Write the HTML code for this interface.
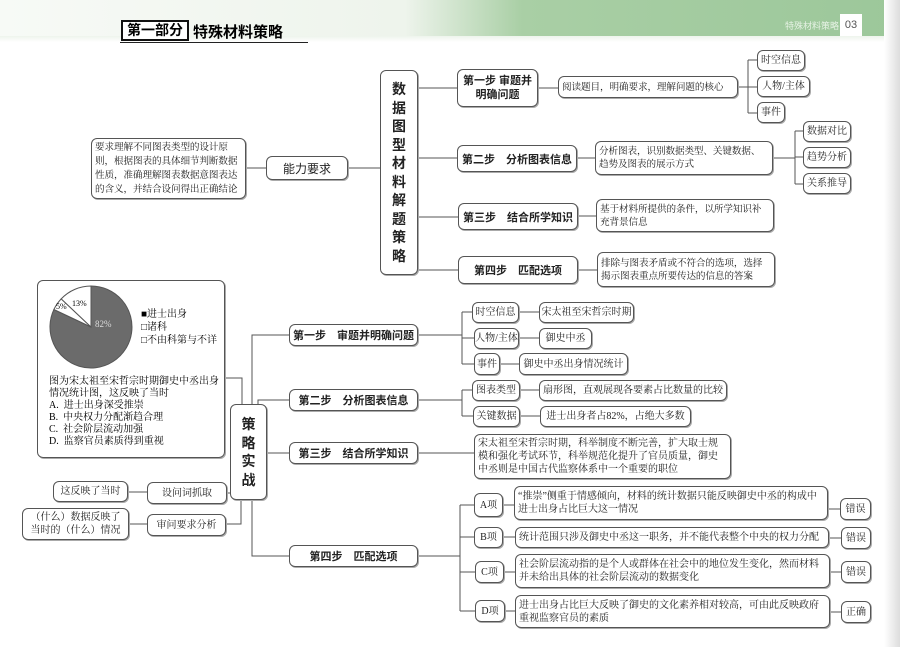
<!DOCTYPE html>
<html><head><meta charset="utf-8"><style>
body{margin:0;width:900px;height:647px;overflow:hidden;background:#fff;position:relative;font-family:"Liberation Sans","Noto Sans CJK SC",sans-serif;}
.b{position:absolute;box-sizing:border-box;border:1px solid #555;border-radius:6px;background:#fff;box-shadow:1px 1px 0 #aaa;display:flex;align-items:center;color:#222;}
.h{font-family:"Liberation Sans","Noto Sans CJK SC",sans-serif;font-weight:bold;font-size:11px;justify-content:center;text-align:center;white-space:nowrap;}
.s{font-family:"Liberation Serif","Noto Serif CJK SC",serif;font-size:10px;line-height:13px;padding:0 3px;}
.m{font-size:9.6px;letter-spacing:-0.1px;}
.c{justify-content:center;white-space:nowrap;padding:0;}
.n{white-space:nowrap;}
svg{position:absolute;left:0;top:0;}
</style></head><body>
<div style="position:absolute;left:0;top:0;width:900px;height:36px;background:linear-gradient(90deg,#f7faf6 0%,#eef4ec 45%,#a9cfa5 58%,#9cc79a 100%);"></div>
<div style="position:absolute;left:0;top:36px;width:900px;height:6px;background:linear-gradient(#eef4ec,#fff);"></div>
<div style="position:absolute;left:884px;top:0;width:16px;height:647px;background:linear-gradient(90deg,#fff,#ddd);"></div>
<div style="position:absolute;left:121px;top:20px;width:68px;height:21px;border:2px solid #111;box-sizing:border-box;font-weight:bold;font-size:14px;line-height:17px;text-align:center;background:#fff;">第一部分</div>
<div style="position:absolute;left:193px;top:21px;font-weight:bold;font-size:15px;">特殊材料策略</div>
<div style="position:absolute;left:120px;top:42px;width:188px;height:1px;background:#222;"></div>
<div style="position:absolute;left:840px;top:14px;width:22px;height:22px;background:#fff;font-size:11px;color:#555;text-align:center;line-height:22px;">03</div>
<div style="position:absolute;left:785px;top:19px;font-size:9px;color:#e6f2e4;">特殊材料策略</div>

<svg width="900" height="647" fill="none" stroke="#555" stroke-width="1">
<path d="M246 168H266M348 168H380"/>
<path d="M418 88H457M418 158H457M418 217H458M418 270H458"/>
<path d="M538 88H558M577 158H595M578 216H596M578 270H597"/>
<path d="M738 87H748M748 60V113M748 60H757M748 87H757M748 113H757"/>
<path d="M773 158H795M795 131V184M795 131H803M795 157H803M795 184H803"/>
<path d="M225 378H242V404M241 500V524H226M227 493H230M128 492H147M129 524H147"/>
<path d="M252 404V335H289M258 404V400H289M267 453H289M252 500V556H289"/>
<path d="M418 335H462M462 312V364M462 312H472M462 338H474M462 364H474"/>
<path d="M519 312H539M519 338H539M500 364H519"/>
<path d="M418 400H462M462 390V416M462 390H472M462 416H473M520 390H539M520 416H540"/>
<path d="M418 453H474"/>
<path d="M418 556H460M460 505V611M460 505H474M460 537H474M460 572H475M460 611H475"/>
<path d="M503 505H514M503 537H515M504 572H515M505 611H515"/>
<path d="M828 509H840M829 538H841M830 572H841M830 612H841"/>
<path d="M91 327L91 286A41 41 0 1 1 53.9 309.5Z" fill="#6b6b6b"/>
<path d="M91 327L53.9 309.5A41 41 0 0 1 61.2 298.9Z" fill="#fff"/>
<path d="M91 327L61.2 298.9A41 41 0 0 1 91 286Z" fill="#fff"/>
</svg>

<div class="b s m" style="left:91px;top:138px;width:155px;height:61px;line-height:14px;">要求理解不同图表类型的设计原则，根据图表的具体细节判断数据性质，准确理解图表数据意图表达的含义，并结合设问得出正确结论</div>
<div class="b h" style="left:266px;top:156px;width:82px;height:24px;font-weight:normal;font-size:12px;">能力要求</div>
<div class="b h" style="left:380px;top:70px;width:38px;height:205px;font-size:14px;line-height:18.5px;flex-direction:column;">数<br>据<br>图<br>型<br>材<br>料<br>解<br>题<br>策<br>略</div>
<div class="b h" style="left:457px;top:69px;width:81px;height:38px;line-height:14px;">第一步 审题并<br>明确问题</div>
<div class="b h" style="left:457px;top:145px;width:120px;height:27px;">第二步　分析图表信息</div>
<div class="b h" style="left:458px;top:203px;width:120px;height:27px;">第三步　结合所学知识</div>
<div class="b h" style="left:458px;top:256px;width:120px;height:28px;">第四步　匹配选项</div>
<div class="b s m n" style="left:558px;top:76px;width:180px;height:22px;">阅读题目，明确要求，理解问题的核心</div>
<div class="b s m" style="left:595px;top:141px;width:178px;height:34px;">分析图表，识别数据类型、关键数据、趋势及图表的展示方式</div>
<div class="b s m" style="left:596px;top:199px;width:178px;height:33px;">基于材料所提供的条件，以所学知识补充背景信息</div>
<div class="b s m" style="left:597px;top:252px;width:178px;height:35px;">排除与图表矛盾或不符合的选项，选择揭示图表重点所要传达的信息的答案</div>
<div class="b s c" style="left:757px;top:50px;width:48px;height:21px;">时空信息</div>
<div class="b s c" style="left:757px;top:76px;width:53px;height:21px;">人物/主体</div>
<div class="b s c" style="left:757px;top:102px;width:28px;height:21px;">事件</div>
<div class="b s c" style="left:803px;top:121px;width:48px;height:21px;">数据对比</div>
<div class="b s c" style="left:803px;top:147px;width:48px;height:21px;">趋势分析</div>
<div class="b s c" style="left:803px;top:173px;width:48px;height:21px;">关系推导</div>

<div class="b" style="left:37px;top:280px;width:188px;height:178px;background:transparent;"></div>
<div style="position:absolute;left:95px;top:319px;font-family:'Liberation Serif',serif;font-size:9px;color:#ddd;">82%</div>
<div style="position:absolute;left:56px;top:302px;font-family:'Liberation Serif',serif;font-size:8px;">5%</div>
<div style="position:absolute;left:72px;top:299px;font-family:'Liberation Serif',serif;font-size:8px;">13%</div>
<div style="position:absolute;left:141px;top:308px;font-family:'Liberation Serif','Noto Serif CJK SC',serif;font-size:10px;line-height:13px;">■进士出身<br>□诸科<br>□不由科第与不详</div>
<div style="position:absolute;left:49px;top:376px;font-family:'Liberation Serif','Noto Serif CJK SC',serif;font-size:10px;line-height:12px;width:172px;">图为宋太祖至宋哲宗时期御史中丞出身情况统计图，这反映了当时<br>A.&nbsp; 进士出身深受推崇<br>B.&nbsp; 中央权力分配渐趋合理<br>C.&nbsp; 社会阶层流动加强<br>D.&nbsp; 监察官员素质得到重视</div>
<div class="b h" style="left:230px;top:404px;width:37px;height:96px;font-size:14px;line-height:18.5px;flex-direction:column;">策<br>略<br>实<br>战</div>
<div class="b s c" style="left:147px;top:482px;width:80px;height:22px;">设问词抓取</div>
<div class="b s c" style="left:53px;top:481px;width:75px;height:21px;">这反映了当时</div>
<div class="b s c" style="left:147px;top:514px;width:79px;height:22px;">审问要求分析</div>
<div class="b s" style="left:22px;top:508px;width:107px;height:32px;justify-content:center;text-align:center;">（什么）数据反映了当时的（什么）情况</div>
<div class="b h" style="left:289px;top:324px;width:129px;height:22px;">第一步　审题并明确问题</div>
<div class="b h" style="left:289px;top:389px;width:129px;height:22px;">第二步　分析图表信息</div>
<div class="b h" style="left:289px;top:442px;width:129px;height:22px;">第三步　结合所学知识</div>
<div class="b h" style="left:289px;top:545px;width:129px;height:22px;">第四步　匹配选项</div>
<div class="b s c" style="left:472px;top:302px;width:47px;height:21px;">时空信息</div>
<div class="b s c" style="left:539px;top:302px;width:95px;height:21px;">宋太祖至宋哲宗时期</div>
<div class="b s c" style="left:474px;top:328px;width:45px;height:21px;">人物/主体</div>
<div class="b s c" style="left:539px;top:328px;width:53px;height:21px;">御史中丞</div>
<div class="b s c" style="left:474px;top:353px;width:26px;height:22px;">事件</div>
<div class="b s c" style="left:519px;top:353px;width:109px;height:22px;">御史中丞出身情况统计</div>
<div class="b s c" style="left:472px;top:380px;width:48px;height:21px;">图表类型</div>
<div class="b s c" style="left:539px;top:380px;width:188px;height:21px;">扇形图，直观展现各要素占比数量的比较</div>
<div class="b s c" style="left:473px;top:406px;width:47px;height:21px;">关键数据</div>
<div class="b s c" style="left:540px;top:406px;width:151px;height:21px;">进士出身者占82%，占绝大多数</div>
<div class="b s" style="left:474px;top:434px;width:257px;height:45px;">宋太祖至宋哲宗时期，科举制度不断完善，扩大取士规模和强化考试环节，科举规范化提升了官员质量，御史中丞则是中国古代监察体系中一个重要的职位</div>
<div class="b s c" style="left:474px;top:493px;width:29px;height:24px;">A项</div>
<div class="b s" style="left:514px;top:486px;width:314px;height:34px;">“推崇”侧重于情感倾向，材料的统计数据只能反映御史中丞的构成中进士出身占比巨大这一情况</div>
<div class="b s c" style="left:840px;top:498px;width:31px;height:22px;">错误</div>
<div class="b s c" style="left:474px;top:527px;width:29px;height:21px;">B项</div>
<div class="b s n" style="left:515px;top:527px;width:314px;height:21px;">统计范围只涉及御史中丞这一职务，并不能代表整个中央的权力分配</div>
<div class="b s c" style="left:841px;top:527px;width:30px;height:22px;">错误</div>
<div class="b s c" style="left:475px;top:561px;width:29px;height:22px;">C项</div>
<div class="b s" style="left:515px;top:554px;width:315px;height:34px;">社会阶层流动指的是个人或群体在社会中的地位发生变化，然而材料并未给出具体的社会阶层流动的数据变化</div>
<div class="b s c" style="left:841px;top:561px;width:30px;height:22px;">错误</div>
<div class="b s c" style="left:475px;top:600px;width:30px;height:22px;">D项</div>
<div class="b s" style="left:515px;top:595px;width:315px;height:33px;">进士出身占比巨大反映了御史的文化素养相对较高，可由此反映政府重视监察官员的素质</div>
<div class="b s c" style="left:841px;top:601px;width:30px;height:22px;">正确</div>
</body></html>
